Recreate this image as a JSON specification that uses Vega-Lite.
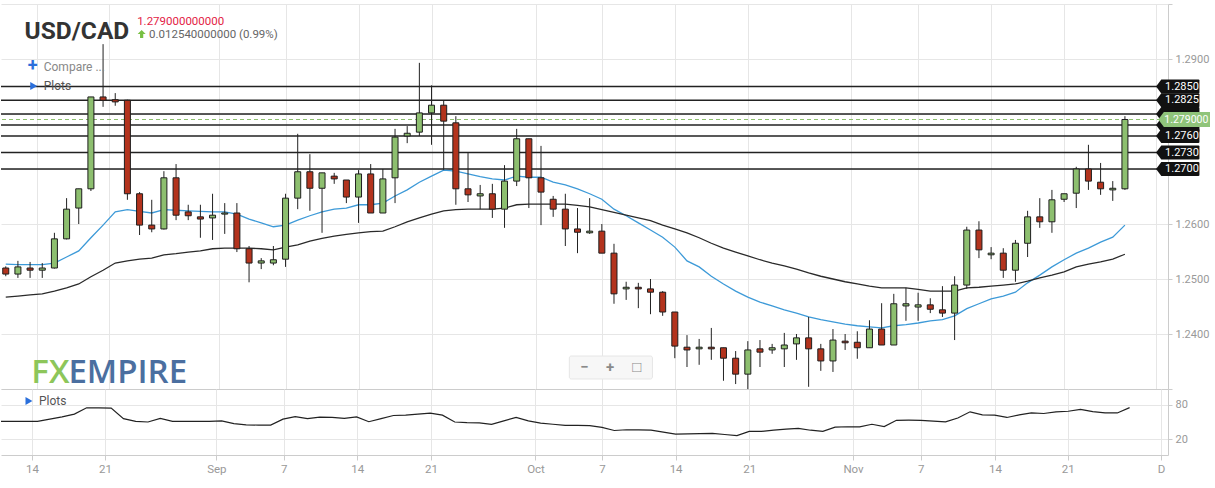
{
  "$schema": "https://vega.github.io/schema/vega-lite/v6.json",
  "background": "white",
  "padding": {"left": 0, "top": 3, "right": 0, "bottom": 0},
  "spacing": 0,
  "bounds": "flush",
  "config": {
    "view": {"stroke": null},
    "font": "Roboto",
    "axis": {"gridColor": "#e6e6e6", "domainColor": "#cccccc", "tickColor": "#cccccc", "labelColor": "#999999", "labelFontSize": 11, "labelFont": "Roboto"}
  },
  "datasets": {
    "candles": [
      {"n": 0, "date": "2021-08-11", "open": 1.2520, "high": 1.2523, "low": 1.2505, "close": 1.2509, "fast": 1.2527, "slow": 1.2467, "osc": 51},
      {"n": 1, "date": "2021-08-12", "open": 1.2509, "high": 1.2533, "low": 1.2502, "close": 1.2522, "fast": 1.2526, "slow": 1.2469, "osc": 51},
      {"n": 2, "date": "2021-08-13", "open": 1.2520, "high": 1.2531, "low": 1.2502, "close": 1.2516, "fast": 1.2526, "slow": 1.2471, "osc": 51},
      {"n": 3, "date": "2021-08-15", "open": 1.2516, "high": 1.2529, "low": 1.2502, "close": 1.2520, "fast": 1.2526, "slow": 1.2473, "osc": 51},
      {"n": 4, "date": "2021-08-16", "open": 1.2520, "high": 1.2584, "low": 1.2519, "close": 1.2573, "fast": 1.2529, "slow": 1.2478, "osc": 55},
      {"n": 5, "date": "2021-08-17", "open": 1.2573, "high": 1.2647, "low": 1.2572, "close": 1.2627, "fast": 1.2540, "slow": 1.2484, "osc": 59},
      {"n": 6, "date": "2021-08-18", "open": 1.2629, "high": 1.2664, "low": 1.2600, "close": 1.2664, "fast": 1.2551, "slow": 1.2491, "osc": 64},
      {"n": 7, "date": "2021-08-19", "open": 1.2664, "high": 1.2831, "low": 1.2660, "close": 1.2831, "fast": 1.2575, "slow": 1.2504, "osc": 75},
      {"n": 8, "date": "2021-08-20", "open": 1.2831, "high": 1.2927, "low": 1.2813, "close": 1.2825, "fast": 1.2598, "slow": 1.2516, "osc": 75},
      {"n": 9, "date": "2021-08-22", "open": 1.2826, "high": 1.2838, "low": 1.2815, "close": 1.2822, "fast": 1.2622, "slow": 1.2529, "osc": 74.5},
      {"n": 10, "date": "2021-08-23", "open": 1.2825, "high": 1.2826, "low": 1.2644, "close": 1.2655, "fast": 1.2626, "slow": 1.2533, "osc": 56},
      {"n": 11, "date": "2021-08-24", "open": 1.2655, "high": 1.2658, "low": 1.2580, "close": 1.2598, "fast": 1.2623, "slow": 1.2536, "osc": 51},
      {"n": 12, "date": "2021-08-25", "open": 1.2598, "high": 1.2644, "low": 1.2585, "close": 1.2591, "fast": 1.2620, "slow": 1.2538, "osc": 50},
      {"n": 13, "date": "2021-08-26", "open": 1.2591, "high": 1.2696, "low": 1.2590, "close": 1.2684, "fast": 1.2626, "slow": 1.2544, "osc": 56.5},
      {"n": 14, "date": "2021-08-27", "open": 1.2684, "high": 1.2709, "low": 1.2607, "close": 1.2616, "fast": 1.2625, "slow": 1.2546, "osc": 51},
      {"n": 15, "date": "2021-08-29", "open": 1.2622, "high": 1.2635, "low": 1.2607, "close": 1.2615, "fast": 1.2624, "slow": 1.2549, "osc": 51},
      {"n": 16, "date": "2021-08-30", "open": 1.2613, "high": 1.2635, "low": 1.2575, "close": 1.2609, "fast": 1.2623, "slow": 1.2551, "osc": 51},
      {"n": 17, "date": "2021-08-31", "open": 1.2611, "high": 1.2655, "low": 1.2571, "close": 1.2616, "fast": 1.2622, "slow": 1.2555, "osc": 51},
      {"n": 18, "date": "2021-09-01", "open": 1.2618, "high": 1.2638, "low": 1.2582, "close": 1.2620, "fast": 1.2622, "slow": 1.2556, "osc": 52},
      {"n": 19, "date": "2021-09-02", "open": 1.2620, "high": 1.2638, "low": 1.2549, "close": 1.2555, "fast": 1.2618, "slow": 1.2556, "osc": 47},
      {"n": 20, "date": "2021-09-03", "open": 1.2555, "high": 1.2560, "low": 1.2494, "close": 1.2529, "fast": 1.2609, "slow": 1.2556, "osc": 45},
      {"n": 21, "date": "2021-09-05", "open": 1.2529, "high": 1.2538, "low": 1.2518, "close": 1.2533, "fast": 1.2602, "slow": 1.2555, "osc": 44.5},
      {"n": 22, "date": "2021-09-06", "open": 1.2529, "high": 1.2560, "low": 1.2525, "close": 1.2535, "fast": 1.2595, "slow": 1.2553, "osc": 44.5},
      {"n": 23, "date": "2021-09-07", "open": 1.2536, "high": 1.2655, "low": 1.2522, "close": 1.2647, "fast": 1.2598, "slow": 1.2558, "osc": 55},
      {"n": 24, "date": "2021-09-08", "open": 1.2647, "high": 1.2764, "low": 1.2627, "close": 1.2695, "fast": 1.2607, "slow": 1.2562, "osc": 59.5},
      {"n": 25, "date": "2021-09-09", "open": 1.2695, "high": 1.2727, "low": 1.2624, "close": 1.2665, "fast": 1.2615, "slow": 1.2569, "osc": 56},
      {"n": 26, "date": "2021-09-10", "open": 1.2665, "high": 1.2693, "low": 1.2584, "close": 1.2693, "fast": 1.2622, "slow": 1.2574, "osc": 58.5},
      {"n": 27, "date": "2021-09-12", "open": 1.2687, "high": 1.2693, "low": 1.2673, "close": 1.2682, "fast": 1.2627, "slow": 1.2578, "osc": 58},
      {"n": 28, "date": "2021-09-13", "open": 1.2680, "high": 1.2680, "low": 1.2638, "close": 1.2649, "fast": 1.2629, "slow": 1.2581, "osc": 56.5},
      {"n": 29, "date": "2021-09-14", "open": 1.2649, "high": 1.2698, "low": 1.2602, "close": 1.2691, "fast": 1.2635, "slow": 1.2584, "osc": 59},
      {"n": 30, "date": "2021-09-15", "open": 1.2691, "high": 1.2709, "low": 1.2620, "close": 1.2620, "fast": 1.2635, "slow": 1.2586, "osc": 50.5},
      {"n": 31, "date": "2021-09-16", "open": 1.2620, "high": 1.2700, "low": 1.2620, "close": 1.2682, "fast": 1.2638, "slow": 1.2587, "osc": 56},
      {"n": 32, "date": "2021-09-17", "open": 1.2684, "high": 1.2773, "low": 1.2638, "close": 1.2758, "fast": 1.2651, "slow": 1.2595, "osc": 61.5},
      {"n": 33, "date": "2021-09-19", "open": 1.2760, "high": 1.2778, "low": 1.2747, "close": 1.2765, "fast": 1.2662, "slow": 1.2604, "osc": 62},
      {"n": 34, "date": "2021-09-20", "open": 1.2767, "high": 1.2893, "low": 1.2760, "close": 1.2802, "fast": 1.2676, "slow": 1.2611, "osc": 64},
      {"n": 35, "date": "2021-09-21", "open": 1.2802, "high": 1.2852, "low": 1.2744, "close": 1.2816, "fast": 1.2687, "slow": 1.2618, "osc": 65.5},
      {"n": 36, "date": "2021-09-22", "open": 1.2816, "high": 1.2824, "low": 1.2698, "close": 1.2787, "fast": 1.2698, "slow": 1.2624, "osc": 62},
      {"n": 37, "date": "2021-09-23", "open": 1.2784, "high": 1.2796, "low": 1.2635, "close": 1.2664, "fast": 1.2696, "slow": 1.2626, "osc": 50},
      {"n": 38, "date": "2021-09-24", "open": 1.2664, "high": 1.2729, "low": 1.2640, "close": 1.2653, "fast": 1.2691, "slow": 1.2627, "osc": 49},
      {"n": 39, "date": "2021-09-26", "open": 1.2651, "high": 1.2671, "low": 1.2627, "close": 1.2655, "fast": 1.2686, "slow": 1.2627, "osc": 48.5},
      {"n": 40, "date": "2021-09-27", "open": 1.2655, "high": 1.2673, "low": 1.2611, "close": 1.2627, "fast": 1.2682, "slow": 1.2627, "osc": 46},
      {"n": 41, "date": "2021-09-28", "open": 1.2627, "high": 1.2707, "low": 1.2593, "close": 1.2678, "fast": 1.2680, "slow": 1.2629, "osc": 52},
      {"n": 42, "date": "2021-09-29", "open": 1.2678, "high": 1.2773, "low": 1.2669, "close": 1.2755, "fast": 1.2687, "slow": 1.2635, "osc": 58},
      {"n": 43, "date": "2021-09-30", "open": 1.2755, "high": 1.2755, "low": 1.2629, "close": 1.2684, "fast": 1.2685, "slow": 1.2636, "osc": 52},
      {"n": 44, "date": "2021-10-01", "open": 1.2684, "high": 1.2742, "low": 1.2598, "close": 1.2658, "fast": 1.2685, "slow": 1.2636, "osc": 48},
      {"n": 45, "date": "2021-10-03", "open": 1.2645, "high": 1.2651, "low": 1.2613, "close": 1.2627, "fast": 1.2676, "slow": 1.2636, "osc": 46},
      {"n": 46, "date": "2021-10-04", "open": 1.2627, "high": 1.2655, "low": 1.2560, "close": 1.2591, "fast": 1.2671, "slow": 1.2636, "osc": 44},
      {"n": 47, "date": "2021-10-05", "open": 1.2591, "high": 1.2629, "low": 1.2547, "close": 1.2585, "fast": 1.2664, "slow": 1.2634, "osc": 44},
      {"n": 48, "date": "2021-10-06", "open": 1.2584, "high": 1.2647, "low": 1.2582, "close": 1.2587, "fast": 1.2655, "slow": 1.2631, "osc": 43.5},
      {"n": 49, "date": "2021-10-07", "open": 1.2587, "high": 1.2600, "low": 1.2547, "close": 1.2547, "fast": 1.2645, "slow": 1.2626, "osc": 40.4},
      {"n": 50, "date": "2021-10-08", "open": 1.2547, "high": 1.2564, "low": 1.2455, "close": 1.2473, "fast": 1.2627, "slow": 1.2621, "osc": 35},
      {"n": 51, "date": "2021-10-10", "open": 1.2482, "high": 1.2495, "low": 1.2462, "close": 1.2485, "fast": 1.2615, "slow": 1.2616, "osc": 36.3},
      {"n": 52, "date": "2021-10-11", "open": 1.2485, "high": 1.2493, "low": 1.2447, "close": 1.2482, "fast": 1.2602, "slow": 1.2611, "osc": 36},
      {"n": 53, "date": "2021-10-12", "open": 1.2482, "high": 1.2500, "low": 1.2436, "close": 1.2476, "fast": 1.2589, "slow": 1.2606, "osc": 35.7},
      {"n": 54, "date": "2021-10-13", "open": 1.2476, "high": 1.2478, "low": 1.2433, "close": 1.2440, "fast": 1.2576, "slow": 1.2598, "osc": 32},
      {"n": 55, "date": "2021-10-14", "open": 1.2440, "high": 1.2440, "low": 1.2356, "close": 1.2378, "fast": 1.2558, "slow": 1.2591, "osc": 28.7},
      {"n": 56, "date": "2021-10-15", "open": 1.2376, "high": 1.2398, "low": 1.2340, "close": 1.2371, "fast": 1.2533, "slow": 1.2584, "osc": 29},
      {"n": 57, "date": "2021-10-17", "open": 1.2373, "high": 1.2391, "low": 1.2344, "close": 1.2376, "fast": 1.2522, "slow": 1.2575, "osc": 29.5},
      {"n": 58, "date": "2021-10-18", "open": 1.2376, "high": 1.2411, "low": 1.2353, "close": 1.2373, "fast": 1.2505, "slow": 1.2565, "osc": 29.9},
      {"n": 59, "date": "2021-10-19", "open": 1.2375, "high": 1.2375, "low": 1.2315, "close": 1.2356, "fast": 1.2491, "slow": 1.2556, "osc": 28},
      {"n": 60, "date": "2021-10-20", "open": 1.2356, "high": 1.2369, "low": 1.2309, "close": 1.2327, "fast": 1.2478, "slow": 1.2549, "osc": 26},
      {"n": 61, "date": "2021-10-21", "open": 1.2327, "high": 1.2387, "low": 1.2300, "close": 1.2371, "fast": 1.2467, "slow": 1.2542, "osc": 33.4},
      {"n": 62, "date": "2021-10-22", "open": 1.2373, "high": 1.2389, "low": 1.2340, "close": 1.2367, "fast": 1.2458, "slow": 1.2535, "osc": 33.4},
      {"n": 63, "date": "2021-10-24", "open": 1.2371, "high": 1.2382, "low": 1.2364, "close": 1.2375, "fast": 1.2451, "slow": 1.2529, "osc": 35.5},
      {"n": 64, "date": "2021-10-25", "open": 1.2373, "high": 1.2402, "low": 1.2340, "close": 1.2380, "fast": 1.2444, "slow": 1.2524, "osc": 37.5},
      {"n": 65, "date": "2021-10-26", "open": 1.2382, "high": 1.2400, "low": 1.2353, "close": 1.2393, "fast": 1.2438, "slow": 1.2518, "osc": 38.6},
      {"n": 66, "date": "2021-10-27", "open": 1.2393, "high": 1.2431, "low": 1.2304, "close": 1.2373, "fast": 1.2431, "slow": 1.2511, "osc": 35.5},
      {"n": 67, "date": "2021-10-28", "open": 1.2373, "high": 1.2382, "low": 1.2333, "close": 1.2351, "fast": 1.2426, "slow": 1.2505, "osc": 33.4},
      {"n": 68, "date": "2021-10-29", "open": 1.2351, "high": 1.2409, "low": 1.2331, "close": 1.2389, "fast": 1.2422, "slow": 1.2500, "osc": 41},
      {"n": 69, "date": "2021-10-31", "open": 1.2387, "high": 1.2400, "low": 1.2371, "close": 1.2384, "fast": 1.2418, "slow": 1.2495, "osc": 41.6},
      {"n": 70, "date": "2021-11-01", "open": 1.2385, "high": 1.2405, "low": 1.2355, "close": 1.2375, "fast": 1.2415, "slow": 1.2491, "osc": 41.3},
      {"n": 71, "date": "2021-11-02", "open": 1.2375, "high": 1.2425, "low": 1.2375, "close": 1.2409, "fast": 1.2413, "slow": 1.2487, "osc": 46},
      {"n": 72, "date": "2021-11-03", "open": 1.2409, "high": 1.2456, "low": 1.2380, "close": 1.2380, "fast": 1.2411, "slow": 1.2484, "osc": 42},
      {"n": 73, "date": "2021-11-04", "open": 1.2380, "high": 1.2473, "low": 1.2380, "close": 1.2455, "fast": 1.2415, "slow": 1.2484, "osc": 53},
      {"n": 74, "date": "2021-11-05", "open": 1.2451, "high": 1.2484, "low": 1.2424, "close": 1.2455, "fast": 1.2417, "slow": 1.2484, "osc": 53.2},
      {"n": 75, "date": "2021-11-07", "open": 1.2449, "high": 1.2475, "low": 1.2424, "close": 1.2453, "fast": 1.2420, "slow": 1.2481, "osc": 53},
      {"n": 76, "date": "2021-11-08", "open": 1.2453, "high": 1.2465, "low": 1.2438, "close": 1.2445, "fast": 1.2424, "slow": 1.2478, "osc": 51.5},
      {"n": 77, "date": "2021-11-09", "open": 1.2444, "high": 1.2487, "low": 1.2431, "close": 1.2438, "fast": 1.2426, "slow": 1.2478, "osc": 50.3},
      {"n": 78, "date": "2021-11-10", "open": 1.2438, "high": 1.2505, "low": 1.2389, "close": 1.2489, "fast": 1.2433, "slow": 1.2478, "osc": 57},
      {"n": 79, "date": "2021-11-11", "open": 1.2489, "high": 1.2595, "low": 1.2482, "close": 1.2589, "fast": 1.2446, "slow": 1.2484, "osc": 68},
      {"n": 80, "date": "2021-11-12", "open": 1.2589, "high": 1.2605, "low": 1.2538, "close": 1.2553, "fast": 1.2455, "slow": 1.2485, "osc": 62.5},
      {"n": 81, "date": "2021-11-14", "open": 1.2544, "high": 1.2558, "low": 1.2536, "close": 1.2547, "fast": 1.2464, "slow": 1.2487, "osc": 62},
      {"n": 82, "date": "2021-11-15", "open": 1.2547, "high": 1.2556, "low": 1.2502, "close": 1.2516, "fast": 1.2469, "slow": 1.2489, "osc": 58},
      {"n": 83, "date": "2021-11-16", "open": 1.2516, "high": 1.2571, "low": 1.2495, "close": 1.2565, "fast": 1.2476, "slow": 1.2491, "osc": 62.5},
      {"n": 84, "date": "2021-11-17", "open": 1.2565, "high": 1.2624, "low": 1.2540, "close": 1.2613, "fast": 1.2493, "slow": 1.2496, "osc": 66},
      {"n": 85, "date": "2021-11-18", "open": 1.2613, "high": 1.2647, "low": 1.2593, "close": 1.2604, "fast": 1.2507, "slow": 1.2502, "osc": 65},
      {"n": 86, "date": "2021-11-19", "open": 1.2604, "high": 1.2662, "low": 1.2584, "close": 1.2644, "fast": 1.2522, "slow": 1.2507, "osc": 68},
      {"n": 87, "date": "2021-11-21", "open": 1.2645, "high": 1.2655, "low": 1.2640, "close": 1.2655, "fast": 1.2535, "slow": 1.2513, "osc": 69},
      {"n": 88, "date": "2021-11-22", "open": 1.2656, "high": 1.2704, "low": 1.2629, "close": 1.2700, "fast": 1.2547, "slow": 1.2522, "osc": 72.4},
      {"n": 89, "date": "2021-11-23", "open": 1.2700, "high": 1.2744, "low": 1.2662, "close": 1.2678, "fast": 1.2556, "slow": 1.2527, "osc": 68.3},
      {"n": 90, "date": "2021-11-24", "open": 1.2676, "high": 1.2711, "low": 1.2653, "close": 1.2664, "fast": 1.2567, "slow": 1.2531, "osc": 66},
      {"n": 91, "date": "2021-11-25", "open": 1.2662, "high": 1.2678, "low": 1.2642, "close": 1.2665, "fast": 1.2576, "slow": 1.2536, "osc": 66},
      {"n": 92, "date": "2021-11-26", "open": 1.2664, "high": 1.2796, "low": 1.2662, "close": 1.2790, "fast": 1.2598, "slow": 1.2545, "osc": 75.3}
    ],
    "levels": [
      {"level": 1.2800, "label": ""},
      {"level": 1.2780, "label": ""},
      {"level": 1.2850, "label": "1.2850"},
      {"level": 1.2825, "label": "1.2825"},
      {"level": 1.2760, "label": "1.2760"},
      {"level": 1.2730, "label": "1.2730"},
      {"level": 1.2700, "label": "1.2700"}
    ]
  },
  "vconcat": [
    {
      "width": 1167,
      "height": 385,
      "layer": [
        {
          "data": {"name": "levels"},
          "mark": {"type": "rule", "color": "#222222", "strokeWidth": 1.4},
          "encoding": {
            "y": {"field": "level", "type": "quantitative", "scale": {"domain": [1.23, 1.30], "zero": false, "nice": false},
              "axis": {"orient": "right", "title": null, "values": [1.23, 1.24, 1.25, 1.26, 1.27, 1.28, 1.29, 1.30], "labelExpr": "indexof([1.24, 1.25, 1.26, 1.29], datum.value) >= 0 ? format(datum.value, '.4f') : ''", "tickSize": 4, "labelPadding": 3, "grid": true}}
          }
        },
        {
          "data": {"values": [{}]},
          "mark": {"type": "rule", "color": "#8dbf6f", "strokeWidth": 1, "strokeDash": [4, 3]},
          "encoding": {"y": {"datum": 1.279, "type": "quantitative"}}
        },
        {
          "data": {"name": "candles"},
          "mark": {"type": "line", "color": "#3d9ad8", "strokeWidth": 1.3, "clip": true},
          "encoding": {
            "x": {"field": "n", "type": "quantitative", "scale": {"domain": [0.02, 95.13], "zero": false, "nice": false},
              "axis": {"orient": "bottom", "title": null, "values": [2.55, 8.5, 17.57, 23.07, 29.06, 35.06, 43.58, 49, 55, 61, 69.46, 74.97, 81.03, 86.96, 94.56], "labels": false, "ticks": false, "domain": true, "grid": true, "minExtent": 0, "maxExtent": 0, "offset": 0}},
            "y": {"field": "fast", "type": "quantitative"}
          }
        },
        {
          "data": {"name": "candles"},
          "mark": {"type": "line", "color": "#2a2a2a", "strokeWidth": 1.3, "clip": true},
          "encoding": {
            "x": {"field": "n", "type": "quantitative"},
            "y": {"field": "slow", "type": "quantitative"}
          }
        },
        {
          "data": {"name": "candles"},
          "mark": {"type": "rule", "color": "#222222", "strokeWidth": 1, "clip": true},
          "encoding": {
            "x": {"field": "n", "type": "quantitative"},
            "y": {"field": "low", "type": "quantitative"},
            "y2": {"field": "high"}
          }
        },
        {
          "data": {"name": "candles"},
          "mark": {"type": "bar", "width": 6, "stroke": "#1e1e1e", "strokeWidth": 1, "clip": true},
          "encoding": {
            "x": {"field": "n", "type": "quantitative"},
            "y": {"field": "open", "type": "quantitative"},
            "y2": {"field": "close"},
            "fill": {"condition": {"test": "datum.close >= datum.open", "value": "#8dbf6f"}, "value": "#b3331d"}
          }
        },
        {
          "data": {"values": [{}]},
          "mark": {"type": "text", "text": "USD/CAD", "font": "Roboto", "fontSize": 24.5, "fontWeight": "bold", "color": "#333333", "align": "left", "baseline": "alphabetic"},
          "encoding": {"x": {"datum": 1.55, "type": "quantitative"}, "y": {"datum": 1.29364, "type": "quantitative"}}
        },
        {
          "data": {"values": [{}]},
          "mark": {"type": "text", "text": "1.279000000000", "fontSize": 11.5, "color": "#e31c45", "align": "left", "baseline": "alphabetic"},
          "encoding": {"x": {"datum": 10.8, "type": "quantitative"}, "y": {"datum": 1.29627, "type": "quantitative"}}
        },
        {
          "data": {"values": [{}]},
          "mark": {"type": "point", "shape": "M0,-1 L1,0 L0.4,0 L0.4,1 L-0.4,1 L-0.4,0 L-1,0 Z", "size": 64, "filled": true, "color": "#78c043", "opacity": 1},
          "encoding": {"x": {"datum": 11.17, "type": "quantitative"}, "y": {"datum": 1.29455, "type": "quantitative"}}
        },
        {
          "data": {"values": [{}]},
          "mark": {"type": "text", "text": "0.012540000000 (0.99%)", "fontSize": 11.5, "color": "#666666", "align": "left", "baseline": "alphabetic"},
          "encoding": {"x": {"datum": 11.78, "type": "quantitative"}, "y": {"datum": 1.29382, "type": "quantitative"}}
        },
        {
          "data": {"values": [{}]},
          "mark": {"type": "text", "text": "+", "fontSize": 18, "fontWeight": "bold", "color": "#2a6fdb", "align": "center", "baseline": "middle"},
          "encoding": {"x": {"datum": 2.22, "type": "quantitative"}, "y": {"datum": 1.28864, "type": "quantitative"}}
        },
        {
          "data": {"values": [{}]},
          "mark": {"type": "text", "text": "Compare ...", "fontSize": 12, "color": "#888888", "align": "left", "baseline": "middle"},
          "encoding": {"x": {"datum": 3.12, "type": "quantitative"}, "y": {"datum": 1.28855, "type": "quantitative"}}
        },
        {
          "data": {"values": [{}]},
          "mark": {"type": "point", "shape": "triangle-right", "size": 64, "filled": true, "color": "#2a6fdb", "opacity": 1},
          "encoding": {"x": {"datum": 2.3, "type": "quantitative"}, "y": {"datum": 1.28509, "type": "quantitative"}}
        },
        {
          "data": {"values": [{}]},
          "mark": {"type": "text", "text": "Plots", "fontSize": 12, "color": "#555555", "align": "left", "baseline": "middle"},
          "encoding": {"x": {"datum": 3.12, "type": "quantitative"}, "y": {"datum": 1.28509, "type": "quantitative"}}
        },
        {
          "data": {"values": [{}]},
          "mark": {"type": "text", "text": "FX", "font": "Open Sans", "fontSize": 33, "fontWeight": 600, "color": "#8dc65a", "align": "left", "baseline": "alphabetic"},
          "encoding": {"x": {"datum": 2.1, "type": "quantitative"}, "y": {"datum": 1.23109, "type": "quantitative"}}
        },
        {
          "data": {"values": [{}]},
          "mark": {"type": "text", "text": "EMPIRE", "font": "Open Sans", "fontSize": 33, "fontWeight": 600, "color": "#4b6fa0", "align": "left", "baseline": "alphabetic"},
          "encoding": {"x": {"datum": 5.15, "type": "quantitative"}, "y": {"datum": 1.23109, "type": "quantitative"}}
        },
        {
          "data": {"values": [{}]},
          "mark": {"type": "rect", "fill": "#f7f7f7", "stroke": "#e6e6e6", "strokeWidth": 1, "cornerRadius": 2},
          "encoding": {"x": {"datum": 46.33, "type": "quantitative"}, "x2": {"datum": 53.16}, "y": {"datum": 1.236, "type": "quantitative"}, "y2": {"datum": 1.23182}}
        },
        {
          "data": {"values": [{"icon": "−", "n": 47.56}, {"icon": "+", "n": 49.68}, {"icon": "□", "n": 51.88}]},
          "mark": {"type": "text", "fontSize": 15, "fontWeight": "bold", "color": "#8a8a8a", "align": "center", "baseline": "middle"},
          "encoding": {"x": {"field": "n", "type": "quantitative"}, "y": {"datum": 1.23391, "type": "quantitative"}, "text": {"field": "icon"}}
        },
        {
          "data": {"name": "levels"},
          "mark": {"type": "point", "shape": "M0,0 L0.75,-1 L6.05,-1 Q6.2,-1 6.2,-0.85 L6.2,0.85 Q6.2,1 6.05,1 L0.75,1 Z", "size": 196, "filled": true, "color": "#111111", "opacity": 1},
          "encoding": {"x": {"datum": 94.56, "type": "quantitative"}, "y": {"field": "level", "type": "quantitative"}}
        },
        {
          "data": {"name": "levels"},
          "mark": {"type": "text", "fontSize": 11, "color": "white", "align": "left", "baseline": "middle", "dx": 9},
          "encoding": {"x": {"datum": 94.56, "type": "quantitative"}, "y": {"field": "level", "type": "quantitative"}, "text": {"field": "label"}}
        },
        {
          "data": {"values": [{"price": 1.279, "label": "1.2790000"}]},
          "mark": {"type": "point", "shape": "M0,0 L0.75,-1 L6.9,-1 L6.9,1 L0.75,1 Z", "size": 225, "filled": true, "color": "#8fc47a", "opacity": 1},
          "encoding": {"x": {"datum": 94.74, "type": "quantitative"}, "y": {"field": "price", "type": "quantitative"}}
        },
        {
          "data": {"values": [{"price": 1.279, "label": "1.2790000"}]},
          "mark": {"type": "text", "fontSize": 10.5, "color": "white", "align": "left", "baseline": "middle", "dx": 6, "limit": 47, "ellipsis": " "},
          "encoding": {"x": {"datum": 94.74, "type": "quantitative"}, "y": {"field": "price", "type": "quantitative"}, "text": {"field": "label"}}
        }
      ]
    },
    {
      "width": 1167,
      "height": 66,
      "layer": [
        {
          "data": {"name": "candles"},
          "mark": {"type": "line", "color": "#222222", "strokeWidth": 1.2, "clip": true},
          "encoding": {
            "x": {"field": "n", "type": "quantitative", "scale": {"domain": [0.02, 95.13], "zero": false, "nice": false},
              "axis": {"orient": "bottom", "title": null, "values": [2.55, 8.5, 17.57, 23.07, 29.06, 35.06, 43.58, 49, 55, 61, 69.46, 74.97, 81.03, 86.96, 94.56],
                "labelExpr": "['14','21','Sep','7','14','21','Oct','7','14','21','Nov','7','14','21','D'][indexof([2.55, 8.5, 17.57, 23.07, 29.06, 35.06, 43.58, 49, 55, 61, 69.46, 74.97, 81.03, 86.96, 94.56], datum.value)]",
                "tickSize": 5, "labelPadding": 3, "grid": true, "labelFontSize": 11.5}},
            "y": {"field": "osc", "type": "quantitative", "scale": {"domain": [-8.2, 108.2], "zero": false, "nice": false},
              "axis": {"orient": "right", "title": null, "values": [20, 80], "tickSize": 4, "labelPadding": 3, "grid": true}}
          }
        },
        {
          "data": {"values": [{}]},
          "mark": {"type": "point", "shape": "triangle-right", "size": 64, "filled": true, "color": "#2a6fdb", "opacity": 1},
          "encoding": {"x": {"datum": 2.3, "type": "quantitative"}, "y": {"datum": 87, "type": "quantitative"}}
        },
        {
          "data": {"values": [{}]},
          "mark": {"type": "text", "text": "Plots", "fontSize": 12, "color": "#555555", "align": "left", "baseline": "middle"},
          "encoding": {"x": {"datum": 3.12, "type": "quantitative"}, "y": {"datum": 87, "type": "quantitative"}}
        }
      ]
    }
  ]
}
